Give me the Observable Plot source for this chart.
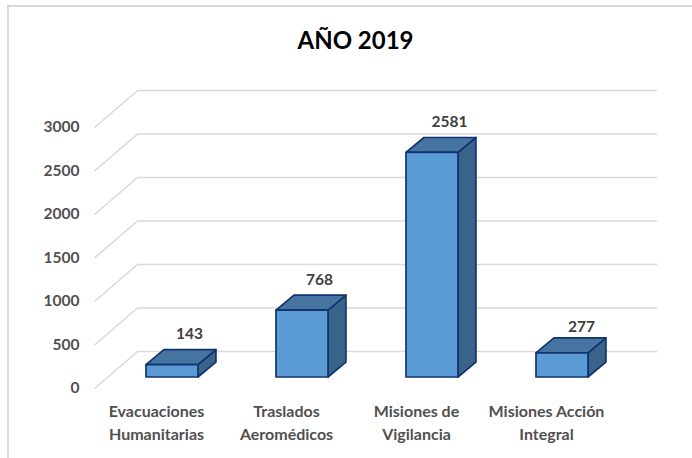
<!DOCTYPE html>
<html><head><meta charset="utf-8">
<script src="https://cdn.jsdelivr.net/npm/d3@7"></script>
<script src="https://cdn.jsdelivr.net/npm/@observablehq/plot@0.6"></script>
<style>
html,body{margin:0;padding:0;background:#fff;}
#chart{position:relative;width:692px;height:458px;overflow:hidden;}
#frame{position:absolute;left:7px;top:5px;right:-4px;bottom:-4px;border:2px solid #d9d9d9;}
#chart svg{position:absolute;left:0;top:0;}
</style></head><body>
<div id="chart"><div id="frame"></div></div>
<script>
const title = "AÑO 2019";
const categories = ["Evacuaciones\nHumanitarias", "Traslados\nAeromédicos", "Misiones de\nVigilancia", "Misiones Acción\nIntegral"];
const values = [143, 768, 2581, 277];
const yTicks = [0, 500, 1000, 1500, 2000, 2500, 3000];

// 3D projection, in the units of the two scales
const wallDepthX = 0.331, wallDepthY = 425;
const barDepthX = 0.138, barDepthY = 172;
const barStart = 0.4, barWidth = 0.4;

const bars = values.map((v, i) => ({v, i, x0: i + barStart, x1: i + barStart + barWidth}));
const topFace = bars.flatMap(b => [
  {bar: b.i, x: b.x0, y1: b.v, y2: b.v},
  {bar: b.i, x: b.x0 + barDepthX, y1: b.v, y2: b.v + barDepthY},
  {bar: b.i, x: b.x1, y1: b.v, y2: b.v + barDepthY},
  {bar: b.i, x: b.x1 + barDepthX, y1: b.v + barDepthY, y2: b.v + barDepthY}
]);
const sideFace = bars.flatMap(b => [
  {bar: b.i, x: b.x1, y1: 0, y2: b.v},
  {bar: b.i, x: b.x1 + barDepthX, y1: barDepthY, y2: b.v + barDepthY}
]);

const edge = {stroke: "#10346f", strokeWidth: 1.7, strokeLinejoin: "round", dy: -11};
const font = {fontFamily: "Lato, sans-serif", fontWeight: 700};

const plot = Plot.plot({
  width: 692, height: 458,
  marginLeft: 94, marginRight: 78, marginTop: 127, marginBottom: 70,
  x: {domain: [0, 4], axis: null},
  y: {domain: [0, 3000], axis: null},
  style: {background: "transparent", overflow: "visible"},
  marks: [
    Plot.link(yTicks, {x1: () => 0, x2: () => wallDepthX, y1: d => d, y2: d => d + wallDepthY, stroke: "#d9d9d9", strokeWidth: 1.5}),
    Plot.ruleY(yTicks, {y: d => d + wallDepthY, x1: () => wallDepthX, x2: () => 4 + wallDepthX, stroke: "#d9d9d9", strokeWidth: 1.5}),
    Plot.axisY({ticks: yTicks, tickSize: 0, tickPadding: 15, label: null, tickFormat: d => String(d), fontSize: 15.5, fill: "#505050", ...font}),
    Plot.area(sideFace, {x1: "x", y1: "y1", y2: "y2", z: "bar", fill: "#3a6389", ...edge}),
    Plot.area(topFace, {x1: "x", y1: "y1", y2: "y2", z: "bar", fill: "#44749f", ...edge}),
    Plot.rect(bars, {x1: "x0", x2: "x1", y1: () => 0, y2: "v", fill: "#5b9bd5", ...edge}),
    Plot.text(bars.filter(b => b.i < 3), {x: b => (b.x0 + b.x1) / 2, y: "v", text: b => String(b.v), dx: 17, dy: -42, fontSize: 15.5, fill: "#404040", ...font}),
    Plot.text(bars.filter(b => b.i === 3), {x: b => (b.x0 + b.x1) / 2, y: "v", text: b => String(b.v), dx: 19, dy: -37, fontSize: 15.5, fill: "#404040", ...font}),
    Plot.text(categories, {x: (d, i) => i + 0.5, y: () => 0, text: d => d, dx: -3, dy: 12, lineAnchor: "top", lineHeight: 1.45, fontSize: 16, fill: "#505050", ...font}),
    Plot.text([title], {frameAnchor: "top", text: d => d, dy: -96, dx: 1, fontSize: 24, fill: "#000", ...font})
  ]
});
document.getElementById("chart").append(plot);
</script>
</body></html>
